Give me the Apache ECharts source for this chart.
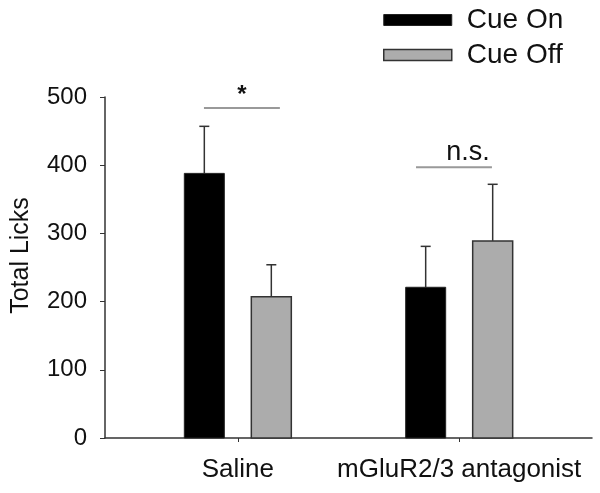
<!DOCTYPE html>
<html>
<head>
<meta charset="utf-8">
<script src="https://cdn.jsdelivr.net/npm/echarts@6/dist/echarts.min.js"></script>
<style>html,body{margin:0;padding:0;background:#fff}#c{width:600px;height:493px}</style>
</head>
<body>
<div id="c"></div>
<script>
var categories = ['Saline', 'mGluR2/3 antagonist'];
var categoryPos = [1, 2];
var seriesNames = ['Cue On', 'Cue Off'];
var cueOn = [388, 221];
var cueOff = [207, 289];
var cueOnErr = [69, 60];
var cueOffErr = [47, 83];
var yTicks = [0, 100, 200, 300, 400, 500];
// significance annotations: [xStart, xEnd, y, labelX, labelY, text]
var sigMarks = [
  [0.847, 1.190, 484, 1.019, 502, '*'],
  [1.805, 2.148, 397, 2.040, 418, 'n.s.']
];

var FONT = 'Liberation Sans, Arial, sans-serif';
var barWidth = 40;
var barGapPx = 27;
var offsetPx = (barWidth + barGapPx) / 2;
var seriesStyle = [
  { fill: '#000', stroke: '#222', lineWidth: 1 },
  { fill: '#acacac', stroke: '#333', lineWidth: 1.5 }
];

function barData(vals, errs, si) { return vals.map(function (v, i) { return [categoryPos[i], v, v + errs[i], si]; }); }

function barRender(params, api) {
  var si = api.value(3);
  var base = api.coord([api.value(0), 0]);
  var topBar = api.coord([api.value(0), api.value(1)]);
  var topErr = api.coord([api.value(0), api.value(2)]);
  var x = base[0] + (si === 0 ? -offsetPx : offsetPx);
  var s = seriesStyle[si];
  var est = { stroke: '#333', lineWidth: 1.5 };
  return {
    type: 'group',
    children: [
      { type: 'line', shape: { x1: x, y1: topBar[1], x2: x, y2: topErr[1] }, style: est },
      { type: 'line', shape: { x1: x - 5, y1: topErr[1], x2: x + 5, y2: topErr[1] }, style: est },
      { type: 'rect', shape: { x: x - barWidth / 2, y: topBar[1], width: barWidth, height: base[1] - topBar[1] },
        style: { fill: s.fill, stroke: s.stroke, lineWidth: s.lineWidth } }
    ]
  };
}

function sigRender(params, api) {
  var p1 = api.coord([api.value(0), api.value(2)]);
  var p2 = api.coord([api.value(1), api.value(2)]);
  var t = api.coord([api.value(3), api.value(4)]);
  var txt = sigMarks[params.dataIndex][5];
  return {
    type: 'group',
    children: [
      { type: 'line', shape: { x1: p1[0], y1: p1[1], x2: p2[0], y2: p2[1] }, style: { stroke: '#999', lineWidth: 2 } },
      { type: 'text', x: t[0], y: t[1], style: { text: txt, fill: '#111', font: (txt === '*' ? 'bold 24px ' : '27px ') + FONT, align: 'center', verticalAlign: 'middle' } }
    ]
  };
}

var chart = echarts.init(document.getElementById('c'), null, { renderer: 'canvas' });
chart.setOption({
  animation: false,
  backgroundColor: '#fff',
  textStyle: { fontFamily: FONT },
  legend: {
    left: 378, top: 1,
    orient: 'vertical',
    itemWidth: 68, itemHeight: 11,
    itemGap: 7,
    icon: 'rect',
    data: [
      { name: 'Cue On', itemStyle: { color: '#000', borderColor: '#222', borderWidth: 1 } },
      { name: 'Cue Off', itemStyle: { color: '#acacac', borderColor: '#333', borderWidth: 1.5 } }
    ],
    textStyle: { fontSize: 28, color: '#111', fontFamily: FONT, padding: [0, 0, 0, 10], lineHeight: 28 }
  },
  grid: { left: 105, right: 8, top: 97, bottom: 55, containLabel: false, outerBoundsMode: 'none' },
  xAxis: {
    type: 'value',
    min: 0.4, max: 2.6,
    splitLine: { show: false },
    axisLine: { show: true, onZero: false, lineStyle: { color: '#333', width: 1.5 } },
    axisTick: { show: true, inside: false, length: 4, customValues: categoryPos, lineStyle: { color: '#333' } },
    axisLabel: {
      customValues: categoryPos,
      formatter: function (v) { var i = categoryPos.indexOf(v); return i >= 0 ? categories[i] : ''; },
      fontSize: 26, color: '#111', margin: 19, fontFamily: FONT
    }
  },
  yAxis: {
    type: 'value',
    min: 0, max: 500, interval: 100,
    name: 'Total Licks',
    nameLocation: 'middle',
    nameGap: 71,
    nameRotate: 90,
    nameTextStyle: { fontSize: 25, color: '#111', fontFamily: FONT, padding: [0, 0, 0, 24] },
    splitLine: { show: false },
    axisLine: { show: true, onZero: false, lineStyle: { color: '#333', width: 1.5 } },
    axisTick: { show: true, length: 5, lineStyle: { color: '#333' } },
    axisLabel: { fontSize: 24, color: '#111', margin: 18, fontFamily: FONT }
  },
  series: [
    { name: 'Cue On', type: 'custom', renderItem: barRender, data: barData(cueOn, cueOnErr, 0),
      itemStyle: { color: '#000' }, encode: { x: 0, y: [1, 2] }, z: 2 },
    { name: 'Cue Off', type: 'custom', renderItem: barRender, data: barData(cueOff, cueOffErr, 1),
      itemStyle: { color: '#acacac' }, encode: { x: 0, y: [1, 2] }, z: 2 },
    { type: 'custom', renderItem: sigRender, data: sigMarks.map(function (s) { return s.slice(0, 5); }), clip: false, z: 5, silent: true,
      encode: { x: [0, 1, 3], y: [2, 4] } }
  ]
});
</script>
</body>
</html>
